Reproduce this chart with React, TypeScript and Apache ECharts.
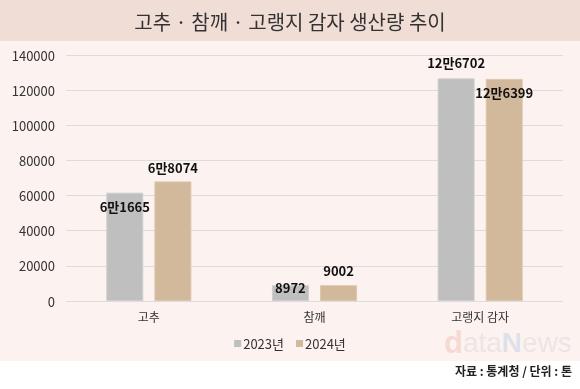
import React, { useEffect, useRef } from "react";
import * as echarts from "echarts";

const categories = ["고추", "참깨", "고랭지 감자"];
const seriesNames = ["2023년", "2024년"];
const values2023 = [61665, 8972, 126702];
const values2024 = [68074, 9002, 126399];
const labels2023 = ["6만1665", "8972", "12만6702"];
const labels2024 = ["6만8074", "9002", "12만6399"];
const titleText = "고추 · 참깨 · 고랭지 감자 생산량 추이";
const sourceText = "자료 : 통계청 / 단위 : 톤";

// label vertical offsets relative to bar top (layout only)
const shift2023 = [14, 2, -16];
const shift2024 = [-14, -15, 14];

const FONT = "'Noto Sans CJK KR', 'Noto Sans', sans-serif";
const WM = "'Liberation Sans', Arial, sans-serif";

export default function App() {
  const ref = useRef<HTMLDivElement>(null);
  useEffect(() => {
    if (!ref.current) return;
    const chart = echarts.init(ref.current, undefined, { renderer: "svg" });
    const mk = (vals: number[], labels: string[], shifts: number[], color: string, border: string) =>
      vals.map((v, i) => ({
        value: v,
        itemStyle: { color, borderColor: border, borderWidth: 1 },
        label: {
          show: true,
          position: ["50%", shifts[i]],
          align: "center",
          verticalAlign: "middle",
          formatter: labels[i],
        },
      }));
    chart.setOption({
      animation: false,
      textStyle: { fontFamily: FONT },
      graphic: [
        { type: "rect", z: -10, shape: { x: 0, y: 0, width: 580, height: 41 }, style: { fill: "#f0ddd6" } },
        { type: "rect", z: -10, shape: { x: 0, y: 41, width: 580, height: 320 }, style: { fill: "#fcf2ef" } },
        {
          type: "text",
          z: -5,
          left: 444,
          top: 327,
          style: {
            text: "{d|d}{a|ata}{n|N}{e|ews}",
            rich: {
              d: { fontSize: 31, fontWeight: "bold", fill: "#f7d9d4", fontFamily: WM },
              a: { fontSize: 28, fill: "#ebe5e4", fontFamily: WM },
              n: { fontSize: 28, fontWeight: "bold", fill: "#dde2ea", fontFamily: WM },
              e: { fontSize: 28, fill: "#ebe5e4", fontFamily: WM },
            },
          },
        },
        {
          type: "text",
          right: 8,
          top: 364,
          style: { text: sourceText, font: `bold 12px ${FONT}`, fill: "#222" },
        },
      ],
      title: {
        text: titleText,
        left: "center",
        top: 6,
        textStyle: { fontSize: 20, fontWeight: "normal", color: "#333", fontFamily: FONT },
      },
      legend: {
        data: seriesNames,
        top: 332,
        left: "center",
        itemWidth: 7,
        itemHeight: 7,
        itemGap: 12,
        icon: "rect",
        textStyle: { fontSize: 13, color: "#333", fontFamily: FONT, padding: [0, 0, 0, -3] },
      },
      grid: { left: 66, right: 17, top: 55, bottom: 88, containLabel: false },
      xAxis: {
        type: "category",
        data: categories,
        axisLine: { show: false },
        axisTick: { show: false },
        axisLabel: { fontSize: 12, color: "#333", margin: 9, fontFamily: FONT },
      },
      yAxis: {
        type: "value",
        min: 0,
        max: 140000,
        interval: 20000,
        axisLine: { show: false },
        axisTick: { show: false },
        axisLabel: { fontSize: 13, color: "#333", margin: 11, fontFamily: FONT, formatter: (v: number) => String(v) },
        splitLine: { lineStyle: { color: "#dcdcdc", width: 1 } },
      },
      series: [
        {
          name: seriesNames[0],
          type: "bar",
          barWidth: 37,
          barGap: "30%",
          itemStyle: { color: "#bfbfbf" },
          label: { fontSize: 13, fontWeight: "bold", color: "#111", fontFamily: FONT },
          data: mk(values2023, labels2023, shift2023, "#bfbfbf", "#cfcfcf"),
        },
        {
          name: seriesNames[1],
          type: "bar",
          barWidth: 37,
          barGap: "30%",
          itemStyle: { color: "#d2b99c" },
          label: { fontSize: 13, fontWeight: "bold", color: "#111", fontFamily: FONT },
          data: mk(values2024, labels2024, shift2024, "#d2b99c", "#dcc7ae"),
        },
      ],
    });
    return () => chart.dispose();
  }, []);
  return <div ref={ref} style={{ position: "fixed", left: 0, top: 0, width: 580, height: 389 }} />;
}
